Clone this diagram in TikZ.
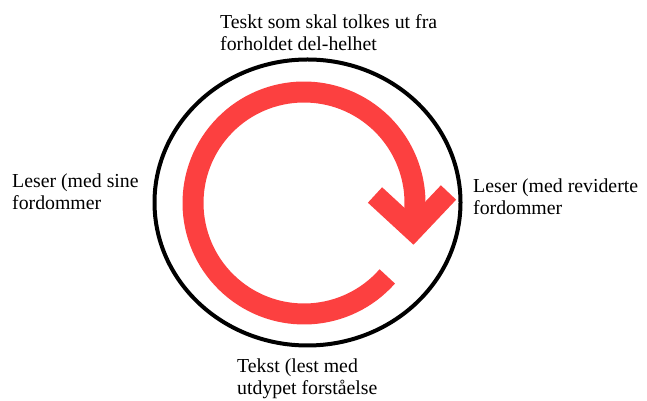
\documentclass[tikz,border=0pt]{standalone}
\usepackage{fontspec}
\setmainfont{Liberation Serif}
\definecolor{cyclered}{RGB}{252,64,64}
\begin{document}
\begin{tikzpicture}[x=1pt,y=1pt,
  lbl/.style={anchor=base west, inner sep=0pt, align=left, font=\fontsize{19.8}{22}\selectfont},
  ring/.style={draw=black, line width=4pt},
  cyc/.style={draw=cyclered, line width=21pt}]
\useasboundingbox (0,0) rectangle (647,401);
\draw[ring] (307.5,198.5) ellipse [x radius=153, y radius=143];
\coordinate (c) at (304,198);
\coordinate (w1) at (375,206);
\coordinate (tip) at (413,171);
\coordinate (w2) at (448.5,208.5);
\draw[cyc] (c) ++(-41.4:111) arc[start angle=-41.4, end angle=-372, radius=111];
\draw[cyc, miter limit=10] (w1) -- (tip) -- (w2);
% base anchor of a two-line node = baseline of its last line
\node[lbl] (top) at (220,350) {Teskt som skal tolkes ut fra\\forholdet del-helhet};
\node[lbl] (left) at (12,191) {Leser (med sine\\fordommer};
\node[lbl] (right) at (473,186) {Leser (med reviderte\\fordommer};
\node[lbl] (bottom) at (237,6) {Tekst (lest med\\utdypet forståelse};
\end{tikzpicture}
\end{document}
